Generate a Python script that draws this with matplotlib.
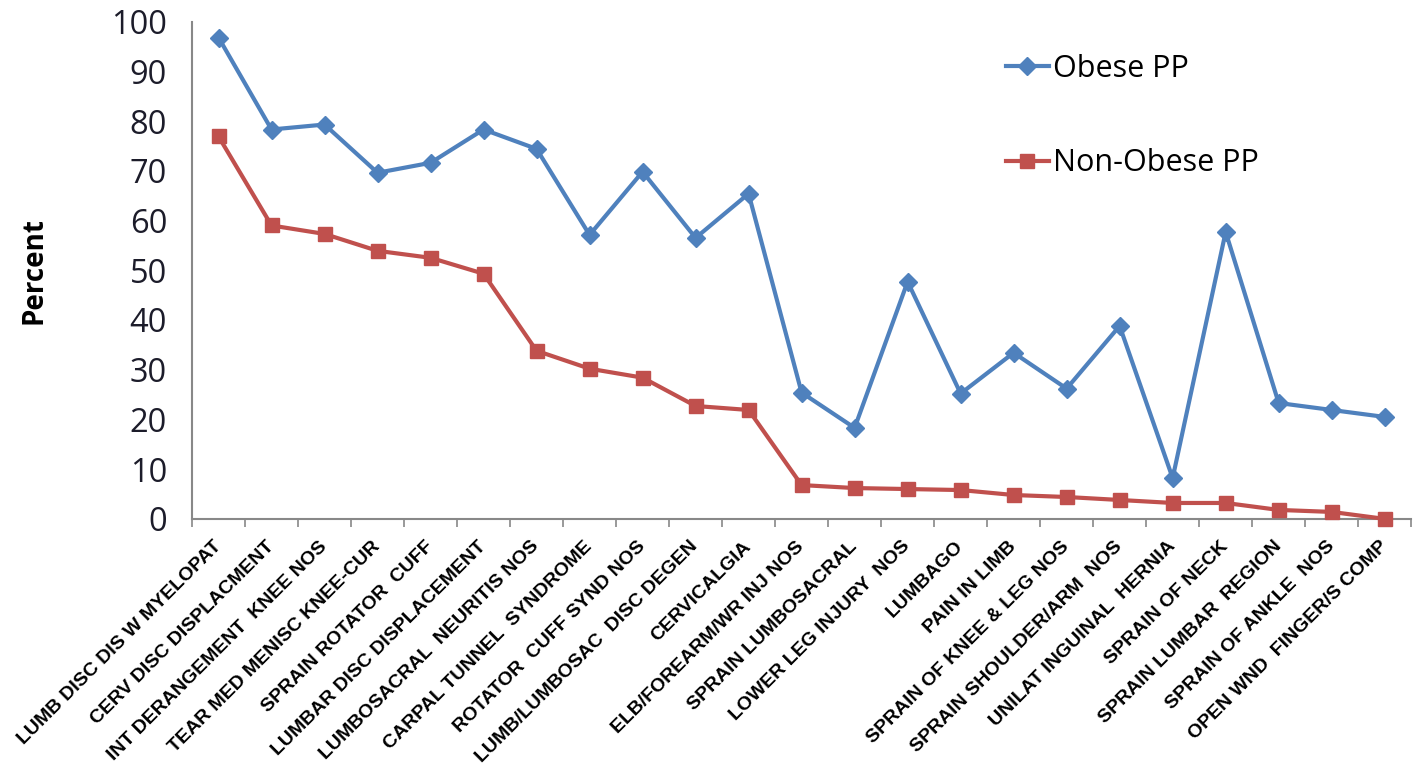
import numpy as np
import matplotlib.pyplot as plt

categories = [
    "LUMB DISC DIS W MYELOPAT", "CERV DISC DISPLACMENT", "INT DERANGEMENT  KNEE NOS",
    "TEAR MED MENISC KNEE-CUR", "SPRAIN ROTATOR  CUFF", "LUMBAR DISC DISPLACEMENT",
    "LUMBOSACRAL  NEURITIS NOS", "CARPAL TUNNEL  SYNDROME", "ROTATOR  CUFF SYND NOS",
    "LUMB/LUMBOSAC  DISC DEGEN", "CERVICALGIA", "ELB/FOREARM/WR INJ NOS",
    "SPRAIN LUMBOSACRAL", "LOWER LEG INJURY  NOS", "LUMBAGO", "PAIN IN LIMB",
    "SPRAIN OF KNEE & LEG NOS", "SPRAIN SHOULDER/ARM  NOS", "UNILAT INGUINAL  HERNIA",
    "SPRAIN OF NECK", "SPRAIN LUMBAR  REGION", "SPRAIN OF ANKLE  NOS",
    "OPEN WND  FINGER/S COMP",
]
obese = [96.8, 78.3, 79.3, 69.6, 71.6, 78.3, 74.4, 57.1, 69.8, 56.5, 65.4, 25.4,
         18.3, 47.7, 25.2, 33.4, 26.2, 38.8, 8.2, 57.7, 23.3, 21.9, 20.5]
non_obese = [76.9, 59.0, 57.3, 53.9, 52.5, 49.3, 33.8, 30.2, 28.4, 22.7, 21.9, 6.8,
             6.2, 6.0, 5.8, 4.8, 4.4, 3.8, 3.2, 3.2, 1.8, 1.4, 0.0]

fig = plt.figure(figsize=(14.16, 7.71), dpi=100)
ax = fig.add_axes([0.1356, 0.327, 0.861, 0.645])

x = np.arange(len(categories))
ax.plot(x, obese, color="#4F81BD", lw=3, marker="D", ms=9, label="Obese PP",
        clip_on=False, zorder=3)
ax.plot(x, non_obese, color="#C0504D", lw=3, marker="s", ms=10, label="Non-Obese PP",
        clip_on=False, zorder=3)

ax.set_xlim(-0.5, len(categories) - 0.5)
ax.set_ylim(0, 100)
ax.set_yticks(range(0, 101, 10))
ax.tick_params(axis="y", length=0, pad=18, labelsize=23.5, labelcolor="#1c1c2a")
for lab in ax.get_yticklabels():
    lab.set_family("Open Sans")

# category ticks sit between the points, labels under the points
ax.set_xticks(np.arange(-0.5, len(categories), 1.0))
ax.set_xticklabels([])
ax.tick_params(axis="x", which="major", length=6, color="#888888", width=1.2)
ax.set_xticks(x, minor=True)
ax.set_xticklabels(categories, minor=True, rotation=45, ha="right", va="center",
                   rotation_mode="anchor", fontsize=14, fontweight="bold",
                   family="Liberation Sans")
ax.tick_params(axis="x", which="minor", length=0, pad=18)

for side in ["top", "right"]:
    ax.spines[side].set_visible(False)
for side in ["left", "bottom"]:
    ax.spines[side].set_color("#888888")
    ax.spines[side].set_linewidth(1.5)

ax.set_ylabel("Percent", fontsize=20, fontweight="bold", family="Open Sans")
ax.yaxis.set_label_coords(-0.118, 0.5)

ax.legend(loc="upper left", bbox_to_anchor=(0.645, 0.99), frameon=False,
          prop={"family": "Open Sans", "size": 22}, labelspacing=2.1,
          handlelength=1.4, handletextpad=0.15, markerscale=1.0)

fig.savefig("out.png", dpi=100)
